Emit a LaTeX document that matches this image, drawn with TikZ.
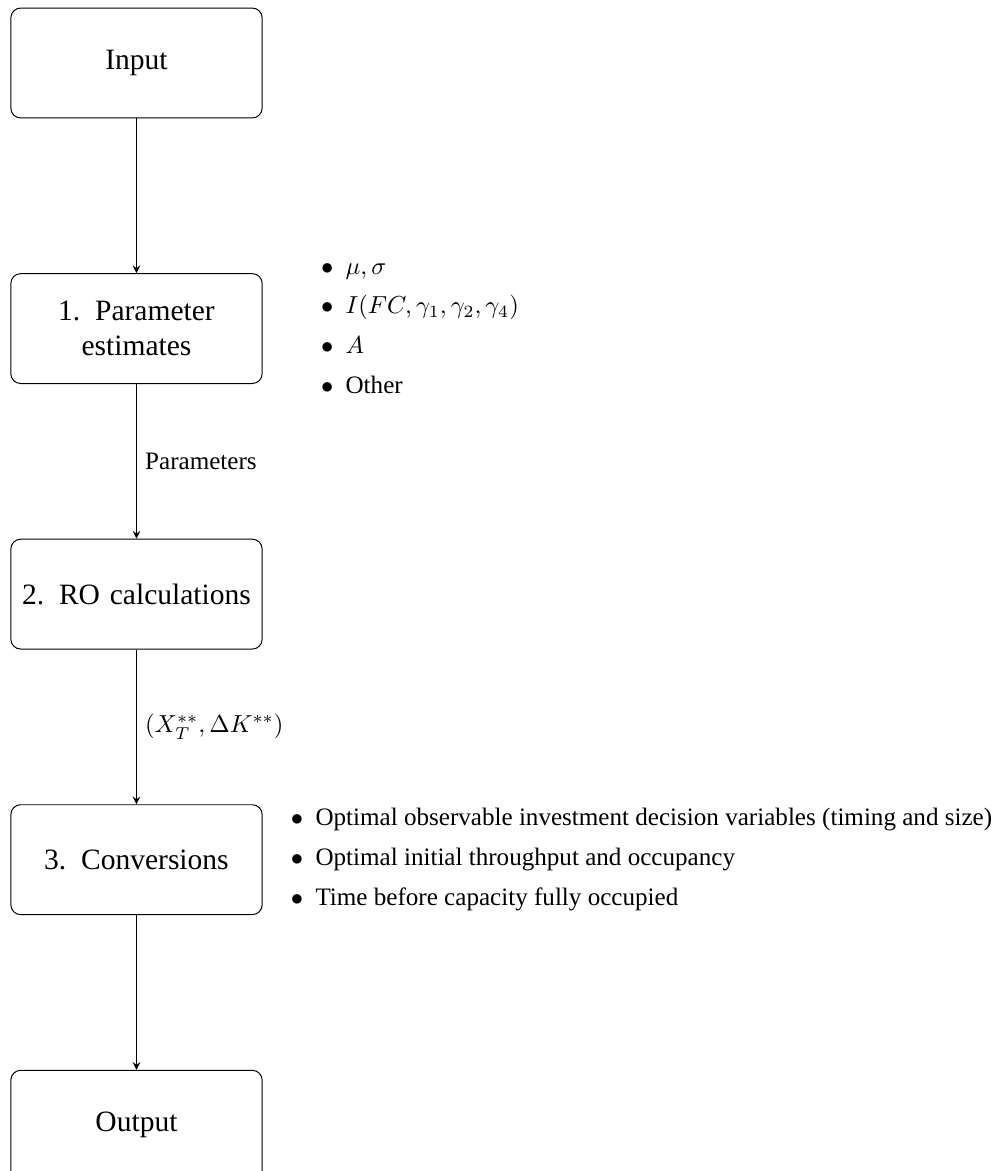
\documentclass[tikz,border=0pt]{standalone}
\usepackage{amsmath}
\usepackage{fontspec}
\setmainfont{Liberation Serif}
\usetikzlibrary{positioning,arrows.meta}

\tikzset{
    stage/.style={draw, rounded corners=4pt, align=center, font=\large,
        text width=3.45cm, inner sep=2pt, minimum height=1.57cm},
    flow/.style={-stealth},
    notes/.style={anchor=west, inner sep=0pt},
}
\newcommand{\tightlist}{\setlength{\itemsep}{0pt}}
\newcommand{\notefont}{\fontsize{10.2pt}{12.2pt}\selectfont}
\renewcommand{\labelitemi}{$\bullet$}

\begin{document}
\begin{tikzpicture}[font=\notefont]
    \useasboundingbox (0,0) rectangle (14.3,-16.73);

    % Steps
    \node[stage] (in) at (1.95,-0.9) {Input};
    \node[stage, below=2.21cm of in] (est) {1. Parameter\\estimates};
    \node[stage, below=2.21cm of est] (ro) {2. RO calculations};
    \node[stage, below=2.21cm of ro] (conv) {3. Conversions};
    \node[stage, below=2.21cm of conv] (out) {Output};

    % Arrows
    \draw[flow] (in) -- (est);
    \draw[flow] (est) -- node[right] {Parameters} (ro);
    \draw[flow] (ro) -- node[right] {$(X_T^{**},\Delta K^{**})$} (conv);
    \draw[flow] (conv) -- (out);

    % Side notes
    \node[notes, right=0.3cm of est] (estnotes) {%
        \begin{minipage}{5cm}
        \begin{itemize}\tightlist
            \item $\mu,\sigma$
            \item $I(FC,\gamma_1,\gamma_2,\gamma_4)$
            \item $A$
            \item Other
        \end{itemize}
        \end{minipage}};
    \node[notes, right=-0.13cm of conv] (convnotes) {%
        \begin{minipage}{11cm}
        \begin{itemize}\tightlist
            \item Optimal observable investment decision variables (timing and size)
            \item Optimal initial throughput and occupancy
            \item Time before capacity fully occupied
        \end{itemize}
        \end{minipage}};
\end{tikzpicture}
\end{document}
